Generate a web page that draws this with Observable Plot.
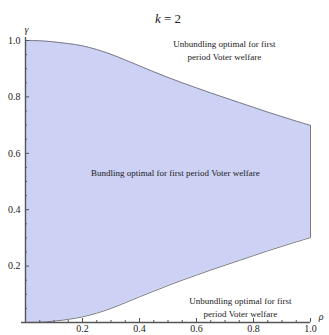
<!DOCTYPE html>
<html><head><meta charset="utf-8">
<script src="https://cdn.jsdelivr.net/npm/d3@7"></script>
<script src="https://cdn.jsdelivr.net/npm/@observablehq/plot@0.6"></script>
<style>body{margin:0;background:#fff}</style>
</head><body><div id="chart"></div>
<script>
const title = "k = 2";
const rho   = [0, 0.05, 0.1, 0.15, 0.2, 0.25, 0.3, 0.35, 0.4, 0.45, 0.5, 0.55, 0.6, 0.65, 0.7, 0.75, 0.8, 0.85, 0.9, 0.95, 1.0];
const lower = [0, 0.001, 0.005, 0.011, 0.020, 0.033, 0.050, 0.070, 0.091, 0.111, 0.131, 0.150, 0.168, 0.186, 0.203, 0.220, 0.237, 0.254, 0.270, 0.286, 0.301];
const upper = [1, 0.999, 0.995, 0.989, 0.981, 0.968, 0.951, 0.931, 0.910, 0.889, 0.869, 0.850, 0.832, 0.814, 0.797, 0.780, 0.763, 0.746, 0.730, 0.714, 0.699];
const xTicks = [0.2, 0.4, 0.6, 0.8, 1.0];
const yTicks = [0.2, 0.4, 0.6, 0.8, 1.0];
const minorTicks = [0.05, 0.1, 0.15, 0.25, 0.3, 0.35, 0.45, 0.5, 0.55, 0.65, 0.7, 0.75, 0.85, 0.9, 0.95];
const regionText = ["Unbundling optimal for first\nperiod Voter welfare", "Bundling optimal for first period Voter welfare", "Unbundling optimal for first\nperiod Voter welfare"];
const regionX = [0.698, 0.526, 0.754];
const regionY = [0.970, 0.535, 0.058];

const data = rho.map((r, i) => ({rho: r, lo: lower[i], hi: upper[i]}));
const labels = regionText.map((t, i) => ({t, x: regionX[i], y: regionY[i]}));
const W = 329, H = 335, mL = 25, mR = 19, mT = 40, mB = 13;
const fw = W - mL - mR, fh = H - mT - mB;
const axisColor = "#555";
const edge = "#7a7a8a";

const plot = Plot.plot({
  width: W, height: H,
  marginTop: mT, marginBottom: mB, marginLeft: mL, marginRight: mR,
  x: {domain: [0, 1]},
  y: {domain: [0, 1]},
  style: {fontFamily: "'Liberation Serif', 'Times New Roman', serif", fontSize: "10px", background: "white", color: "#222", overflow: "visible"},
  marks: [
    Plot.areaY(data, {x: "rho", y1: "lo", y2: "hi", fill: "#cdd1f4", curve: "monotone-x"}),
    Plot.line(data, {x: "rho", y: "hi", stroke: edge, strokeWidth: 1, curve: "monotone-x"}),
    Plot.line(data, {x: "rho", y: "lo", stroke: edge, strokeWidth: 1, curve: "monotone-x"}),
    Plot.ruleX(data.slice(-1), {x: "rho", y1: "lo", y2: "hi", stroke: edge, strokeWidth: 1}),
    Plot.ruleY([0], {stroke: axisColor, strokeWidth: 1.4, insetLeft: -4}),
    Plot.ruleX([0], {stroke: axisColor, strokeWidth: 1.4, insetTop: -3}),
    Plot.ruleX(xTicks, {stroke: axisColor, insetTop: fh - 4}),
    Plot.ruleX(minorTicks, {stroke: axisColor, insetTop: fh - 2}),
    Plot.ruleY(yTicks, {stroke: axisColor, insetRight: fw - 4}),
    Plot.ruleY(minorTicks, {stroke: axisColor, insetRight: fw - 2}),
    Plot.axisX(xTicks, {tickSize: 0, tickPadding: 2, tickFormat: ".1f", label: null, fontSize: 10}),
    Plot.axisY(yTicks, {tickSize: 0, tickPadding: 5, tickFormat: ".1f", label: null, fontSize: 10}),
    Plot.text(["ρ"], {frameAnchor: "bottom-right", dx: 13, dy: -3, fontStyle: "italic", fontSize: 10}),
    Plot.text(["γ"], {frameAnchor: "top-left", dx: -1, dy: -15, fontStyle: "italic", fontSize: 10}),
    Plot.text([title], {frameAnchor: "top", dy: -27, fontSize: 13, className: "ttl"}),
    Plot.text(labels, {x: "x", y: "y", text: "t", fontSize: 9, lineHeight: 1.45, fill: "#222"})
  ]
});
document.getElementById("chart").appendChild(plot);
d3.select(plot).selectAll(".ttl text").each(function() {
  const t = d3.select(this);
  const s = t.text();
  t.text(null);
  t.append("tspan").attr("font-style", "italic").text(s.slice(0, 1));
  t.append("tspan").text(s.slice(1));
});
</script>
</body></html>
